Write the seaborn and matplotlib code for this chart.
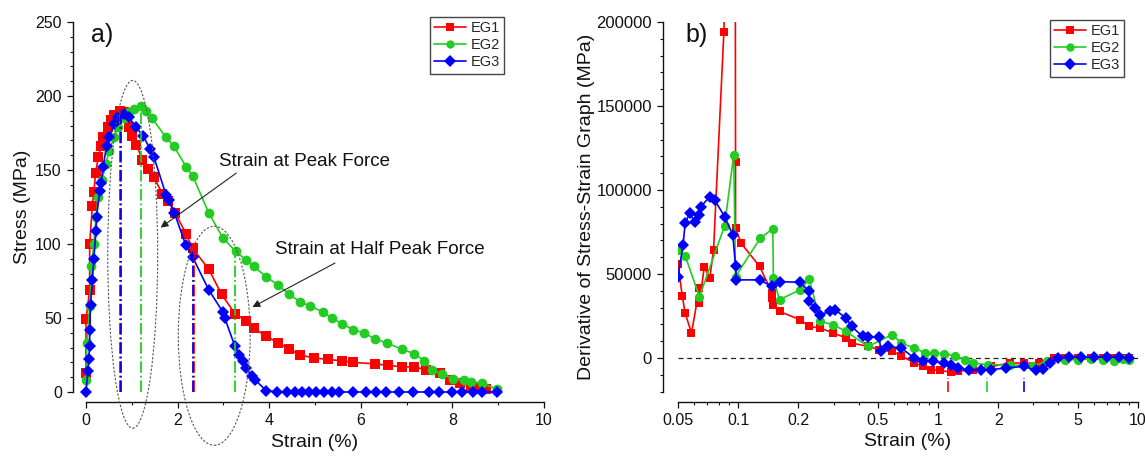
import numpy as np
import pandas as pd
import matplotlib
matplotlib.use("Agg")
import matplotlib.pyplot as plt
import seaborn as sns
from matplotlib.patches import Ellipse
from matplotlib.lines import Line2D
from matplotlib.ticker import MultipleLocator, FixedLocator, FixedFormatter, NullFormatter

# ---------------- data: panel a (stress-strain) ----------------
series = ["EG1", "EG2", "EG3"]

eg1_strain = [0.0, 0.0, 0.08, 0.08, 0.14, 0.17, 0.21, 0.27, 0.33, 0.37, 0.47, 0.54, 0.62, 0.74, 0.82,
              0.93, 1.01, 1.10, 1.23, 1.36, 1.48, 1.67, 1.79, 1.95, 2.18, 2.33, 2.68, 2.96, 3.25, 3.50,
              3.66, 3.93, 4.20, 4.44, 4.67, 4.98, 5.29, 5.60, 5.84, 6.30, 6.60, 6.90, 7.16, 7.43, 7.74,
              7.94, 8.17, 8.40, 8.60, 8.73]
eg1_stress = [13, 49, 69, 100, 126, 135, 148, 159, 166, 172, 179, 184, 187, 190, 189,
              179, 173, 167, 157, 151, 145, 134, 129, 121, 107, 97, 83, 66, 53, 48,
              43, 38, 33, 29, 25, 23, 22, 21, 20, 19, 18, 17, 17, 15, 13,
              8, 6, 4, 2.5, 2]

eg2_strain = [0.0, 0.02, 0.08, 0.12, 0.17, 0.22, 0.27, 0.35, 0.43, 0.51, 0.61, 0.70, 0.82, 0.93, 1.05,
              1.21, 1.32, 1.44, 1.75, 1.92, 2.19, 2.33, 2.68, 2.99, 3.27, 3.50, 3.66, 3.93, 4.20, 4.44,
              4.67, 4.90, 5.18, 5.37, 5.60, 5.84, 6.07, 6.30, 6.58, 6.89, 7.16, 7.39, 7.55, 7.78, 8.02,
              8.25, 8.40, 8.64, 8.97]
eg2_stress = [8, 33, 58, 85, 100, 118, 132, 143, 154, 163, 172, 179, 185, 189, 191,
              193, 190, 185, 172, 166, 152, 146, 121, 104, 95, 89, 85, 78, 72, 66,
              61, 58, 54, 50, 46, 42, 40, 36, 33, 29, 26, 21, 15, 12, 9,
              8, 7, 6, 2]

eg3_strain = [0.0, 0.04, 0.06, 0.08, 0.08, 0.10, 0.14, 0.17, 0.22, 0.23, 0.30, 0.33, 0.37, 0.45, 0.51,
              0.61, 0.70, 0.82, 0.93, 1.09, 1.25, 1.40, 1.48, 1.75, 1.81, 1.93, 2.18, 2.33, 2.68, 2.99,
              3.03, 3.25, 3.35, 3.42, 3.50, 3.62, 3.70, 3.93, 4.18, 4.38, 4.57, 4.71, 4.87, 5.03, 5.20,
              5.37, 5.53, 5.82, 6.11, 6.33, 6.55, 6.84, 7.13, 7.49, 7.71, 8.00, 8.22, 8.44, 8.65, 8.97]
eg3_stress = [0, 14, 22, 31, 42, 59, 76, 90, 109, 118, 136, 141, 152, 166, 172,
              181, 186, 188, 186, 179, 173, 164, 159, 133, 130, 121, 99, 91, 69, 54,
              50, 31, 25, 21, 16, 11, 8, 1, 0, 0, 0, 0, 0, 0, 0,
              0, 0, 0, 0, 0, 0, 0, 0, 0, 0, 0, 0, 0, 0, 0]

peak_strain = [0.74, 1.21, 0.76]
peak_stress = [190, 192, 188]
half_strain = [2.35, 3.26, 2.33]
half_stress = [95, 96, 93]

# ---------------- data: panel b (derivative, log strain) ----------------
d1_strain = [0.050, 0.0525, 0.0543, 0.0584, 0.064, 0.064, 0.0677, 0.0721, 0.0753, 0.0848, 0.0905,
             0.0965, 0.097, 0.097, 0.1035, 0.128, 0.148, 0.148, 0.149, 0.161, 0.204, 0.227, 0.257,
             0.299, 0.346, 0.369, 0.447, 0.507, 0.589, 0.655, 0.759, 0.844, 0.919, 1.02, 1.16, 1.26,
             1.50, 1.85, 2.29, 2.70, 3.20, 3.80, 4.3, 5.0, 5.8, 6.7, 7.6, 8.4, 9.0]
d1_deriv = [56000, 37000, 26700, 14900, 41600, 32700, 54400, 47500, 64400, 194000, 330000,
            330000, 116800, 77200, 68300, 54500, 38600, 35600, 31700, 27700, 22800, 18800, 17800,
            14900, 11900, 8900, 6900, 5000, 4000, 1400, -3000, -5000, -6900, -7300, -8500, -7900,
            -6900, -5000, -3000, -3000, -3000, 0, 0, 0, 0, 0, 0, 0, 0]

d2_strain = [0.050, 0.0543, 0.064, 0.0855, 0.095, 0.097, 0.129, 0.149, 0.150, 0.161, 0.204, 0.227,
             0.257, 0.299, 0.346, 0.447, 0.589, 0.655, 0.759, 0.862, 0.958, 1.066, 1.21, 1.37, 1.50,
             1.77, 2.29, 2.95, 3.50, 4.3, 5.0, 5.8, 6.7, 7.6, 8.4, 9.0]
d2_deriv = [64000, 60800, 36600, 78600, 120800, 48500, 71300, 77000, 47500, 34700, 40600, 46900,
            21800, 19800, 15800, 6900, 13900, 8900, 5900, 3000, 3000, 2600, 1400, -1000, -3000,
            -4000, -4000, -5000, -2000, -1000, -1000, -500, -1000, -2000, -500, -1000]

d3_strain = [0.050, 0.053, 0.0543, 0.0571, 0.0608, 0.064, 0.065, 0.0721, 0.0763, 0.0855, 0.094,
             0.097, 0.098, 0.128, 0.148, 0.161, 0.204, 0.227, 0.227, 0.241, 0.257, 0.287, 0.305,
             0.346, 0.369, 0.419, 0.447, 0.507, 0.518, 0.564, 0.655, 0.759, 0.844, 0.938, 1.066,
             1.16, 1.26, 1.43, 1.63, 1.85, 2.19, 2.70, 3.08, 3.35, 3.65, 3.97, 4.5, 5.2, 6.0,
             7.0, 8.0, 9.0]
d3_deriv = [48500, 67300, 80200, 86100, 81200, 85100, 90100, 96000, 94000, 84200, 73300,
            54500, 46500, 46500, 42600, 45500, 45000, 39600, 33700, 29700, 25700, 27700, 28700,
            23800, 18800, 12900, 12500, 12500, 4000, 6900, 5900, 0, -2000, -2000, -3000,
            -4000, -5900, -7300, -7300, -6900, -5900, -5000, -7300, -6500, -3000, 0, 500, 500, 500,
            500, 500, 0]

min_strain = [1.12, 1.76, 2.69]

# ---------------- styling ----------------
colors = {"EG1": "#FF0000", "EG2": "#22CC22", "EG3": "#0000FF"}
markers = {"EG1": "s", "EG2": "o", "EG3": "D"}
msizes = {"EG1": 6.5, "EG2": 7.0, "EG3": 6.5}

sns.set_theme(style="ticks")
plt.rcParams["font.family"] = ["Liberation Sans", "DejaVu Sans"]
plt.rcParams["axes.linewidth"] = 1.0
txt_col = "#111111"

df_a = pd.concat([
    pd.DataFrame({"strain": eg1_strain, "stress": eg1_stress, "s": "EG1"}),
    pd.DataFrame({"strain": eg2_strain, "stress": eg2_stress, "s": "EG2"}),
    pd.DataFrame({"strain": eg3_strain, "stress": eg3_stress, "s": "EG3"}),
], ignore_index=True)
df_b = pd.concat([
    pd.DataFrame({"strain": d1_strain, "deriv": d1_deriv, "s": "EG1"}),
    pd.DataFrame({"strain": d2_strain, "deriv": d2_deriv, "s": "EG2"}),
    pd.DataFrame({"strain": d3_strain, "deriv": d3_deriv, "s": "EG3"}),
], ignore_index=True)

W, H = 1145, 459
fig = plt.figure(figsize=(W / 100, H / 100), dpi=100)
fig.patch.set_facecolor("white")

ax_a = fig.add_axes([86 / W, 1 - 392 / H, (544 - 86) / W, (392 - 22) / H])
ax_b = fig.add_axes([678 / W, 1 - 391.6 / H, (1138 - 678) / W, (391.6 - 22) / H])


def draw_series(ax, df, ycol, scale):
    for s in series:
        sub = df[df["s"] == s]
        sns.lineplot(data=sub, x="strain", y=ycol, ax=ax, color=colors[s],
                     marker=markers[s], markersize=msizes[s] * scale, markeredgewidth=0,
                     linewidth=1.2, sort=False, estimator=None, legend=False,
                     clip_on=(ax is ax_b))


def style_axes(ax, left_out, bottom_out):
    for sp in ["top", "right"]:
        ax.spines[sp].set_visible(False)
    ax.spines["left"].set_position(("outward", left_out))
    ax.spines["bottom"].set_position(("outward", bottom_out))
    for sp in ["left", "bottom"]:
        ax.spines[sp].set_color(txt_col)
        ax.spines[sp].set_linewidth(1.0)
    ax.tick_params(which="major", direction="out", length=4.5, width=0.9, colors=txt_col,
                   labelsize=11.5, labelcolor=txt_col)
    ax.tick_params(which="minor", direction="out", length=2.5, width=0.8, colors=txt_col)
    ax.set_facecolor("white")
    ax.grid(False)


# ---------------- panel a ----------------
draw_series(ax_a, df_a, "stress", 1.0)
ax_a.set_xlim(0, 10)
ax_a.set_ylim(0, 250)
style_axes(ax_a, 9.4, 7.2)
ax_a.spines["left"].set_bounds(0, 250)
ax_a.spines["bottom"].set_bounds(0, 10)
ax_a.xaxis.set_major_locator(MultipleLocator(2))
ax_a.xaxis.set_minor_locator(MultipleLocator(1))
ax_a.yaxis.set_major_locator(MultipleLocator(50))
ax_a.yaxis.set_minor_locator(MultipleLocator(10))
ax_a.set_xlabel("Strain (%)", fontsize=14, color=txt_col, labelpad=4)
ax_a.set_ylabel("Stress (MPa)", fontsize=14, color=txt_col, labelpad=3)

for i, s in enumerate(series):
    ax_a.vlines(peak_strain[i], 0, peak_stress[i], colors=colors[s], linestyles="-.",
                linewidth=1.3, zorder=5)
    ax_a.vlines(half_strain[i], 0, half_stress[i], colors=colors[s], linestyles="-.",
                linewidth=1.3, zorder=5)

ax_a.add_patch(Ellipse((1.02, 93), 1.09, 235, fill=False, edgecolor="#555555",
                       linestyle=(0, (2, 1.5)), linewidth=0.8, clip_on=False, zorder=6))
ax_a.add_patch(Ellipse((2.80, 38), 1.57, 148, fill=False, edgecolor="#555555",
                       linestyle=(0, (2, 1.5)), linewidth=0.8, clip_on=False, zorder=6))

ax_a.text(2.90, 155.5, "Strain at Peak Force", fontsize=13.5, color=txt_col, va="center", ha="left")
ax_a.annotate("", xy=(1.58, 110), xytext=(3.33, 149),
              arrowprops=dict(arrowstyle="-|>", color="#222222", lw=0.8, mutation_scale=11))
ax_a.text(4.12, 96, "Strain at Half Peak Force", fontsize=13.5, color=txt_col, va="center", ha="left")
ax_a.annotate("", xy=(3.58, 56.5), xytext=(5.49, 88),
              arrowprops=dict(arrowstyle="-|>", color="#222222", lw=0.8, mutation_scale=11))

fig.text(91 / W, 1 - 35 / H, "a)", fontsize=18, color=txt_col, va="center", ha="left")

# ---------------- panel b ----------------
draw_series(ax_b, df_b, "deriv", 0.95)
ax_b.set_xscale("log")
ax_b.set_xlim(0.05, 10)
ax_b.set_ylim(-20000, 200000)
style_axes(ax_b, 10.8, 7.2)
ax_b.spines["left"].set_bounds(-20000, 200000)
ax_b.spines["bottom"].set_bounds(0.05, 10)
major_x = [0.05, 0.1, 0.2, 0.5, 1, 2, 5, 10]
major_lbl = ["0.05", "0.1", "0.2", "0.5", "1", "2", "5", "10"]
minor_x = [0.06, 0.07, 0.08, 0.09, 0.3, 0.4, 0.6, 0.7, 0.8, 0.9, 3, 4, 6, 7, 8, 9]
ax_b.xaxis.set_major_locator(FixedLocator(major_x))
ax_b.xaxis.set_major_formatter(FixedFormatter(major_lbl))
ax_b.xaxis.set_minor_locator(FixedLocator(minor_x))
ax_b.xaxis.set_minor_formatter(NullFormatter())
ax_b.yaxis.set_major_locator(FixedLocator([0, 50000, 100000, 150000, 200000]))
ax_b.yaxis.set_minor_locator(MultipleLocator(10000))
ax_b.tick_params(axis="y", which="major", labelsize=12)
ax_b.set_xlabel("Strain (%)", fontsize=14, color=txt_col, labelpad=4)
ax_b.set_ylabel("Derivative of Stress-Strain Graph (MPa)", fontsize=14, color=txt_col, labelpad=1)
ax_b.axhline(0, color="#222222", linestyle=(0, (4, 3)), linewidth=0.9, zorder=1)
for i, s in enumerate(series):
    ax_b.vlines(min_strain[i], -20000, -12000, colors=colors[s], linestyles="-.",
                linewidth=1.2, zorder=5)

fig.text(685 / W, 1 - 35 / H, "b)", fontsize=18, color=txt_col, va="center", ha="left")

# ---------------- legends ----------------
handles = [Line2D([0], [0], color=colors[s], marker=markers[s], markersize=6,
                  markeredgewidth=0, linewidth=1.2, label=s) for s in series]
leg_kw = dict(loc="upper right", fontsize=10.5, frameon=True, fancybox=False,
              edgecolor="#444444", framealpha=1, borderpad=0.3, labelspacing=0.2,
              handlelength=2.2, handletextpad=0.3, borderaxespad=0)
la = ax_a.legend(handles=handles, bbox_to_anchor=(504 / W, 1 - 17 / H),
                 bbox_transform=fig.transFigure, **leg_kw)
la.get_frame().set_linewidth(1.0)
lb = ax_b.legend(handles=handles, bbox_to_anchor=(1124 / W, 1 - 20 / H),
                 bbox_transform=fig.transFigure, **leg_kw)
lb.get_frame().set_linewidth(1.0)

fig.savefig("out.png", dpi=100, facecolor="white")
